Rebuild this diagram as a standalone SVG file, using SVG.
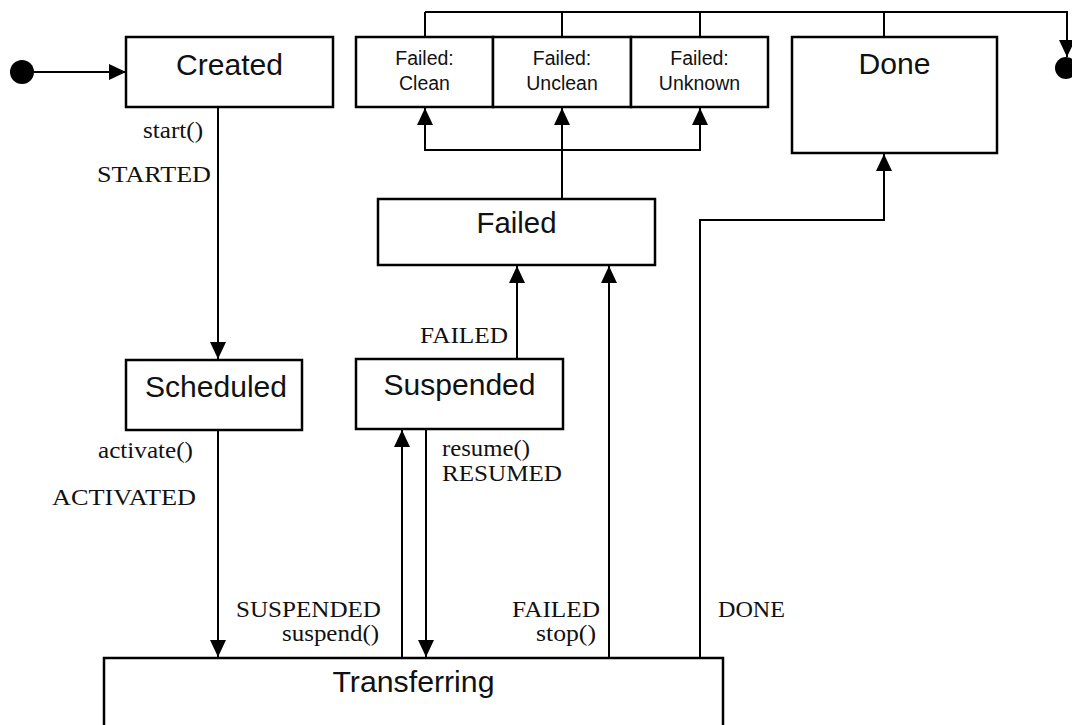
<svg xmlns="http://www.w3.org/2000/svg" width="1072" height="725" viewBox="0 0 1072 725">
<style>
.box{fill:#fff;stroke:#000;stroke-width:2.5}
.ln{fill:none;stroke:#000;stroke-width:2}
.nm{font-family:"Liberation Sans",Arial,sans-serif;font-size:29px;fill:#111;text-anchor:middle}
.sm{font-family:"Liberation Sans",Arial,sans-serif;font-size:19.5px;fill:#111;text-anchor:middle}
.lb{font-family:"Liberation Serif","Times New Roman",serif;font-size:23px;fill:#111}
.end{text-anchor:end}
</style>
<defs>
<marker id="ah" markerUnits="userSpaceOnUse" markerWidth="18" markerHeight="18" refX="17" refY="8" orient="auto">
<path d="M0,0 L17,8 L0,16 z" fill="#000"/>
</marker>
</defs>
<rect width="1072" height="725" fill="#fff"/>
<g id="connectors">
<line class="ln" x1="34" y1="72" x2="126" y2="72" marker-end="url(#ah)"/>
<line class="ln" x1="218" y1="107" x2="218" y2="359" marker-end="url(#ah)"/>
<line class="ln" x1="218" y1="430" x2="218" y2="657" marker-end="url(#ah)"/>
<line class="ln" x1="402" y1="658" x2="402" y2="430" marker-end="url(#ah)"/>
<line class="ln" x1="426" y1="429" x2="426" y2="657" marker-end="url(#ah)"/>
<line class="ln" x1="517" y1="359" x2="517" y2="266" marker-end="url(#ah)"/>
<line class="ln" x1="609" y1="658" x2="609" y2="266" marker-end="url(#ah)"/>
<polyline class="ln" points="700,658 700,220 884,220 884,154" marker-end="url(#ah)"/>
<line class="ln" x1="562" y1="198" x2="562" y2="108" marker-end="url(#ah)"/>
<polyline class="ln" points="425,108 425,150 700,150 700,108"/>
<line class="ln" x1="425" y1="150" x2="425" y2="108" marker-end="url(#ah)"/>
<line class="ln" x1="700" y1="150" x2="700" y2="108" marker-end="url(#ah)"/>
<line class="ln" x1="425" y1="37" x2="425" y2="12"/>
<line class="ln" x1="562" y1="37" x2="562" y2="12"/>
<line class="ln" x1="700" y1="37" x2="700" y2="12"/>
<line class="ln" x1="884" y1="37" x2="884" y2="12"/>
<polyline class="ln" points="425,12 1067,12 1067,57" marker-end="url(#ah)"/>
</g>
<g id="labels">
<text class="lb end" x="203" y="138" textLength="60" lengthAdjust="spacingAndGlyphs">start()</text>
<text class="lb end" x="211" y="182" textLength="114" lengthAdjust="spacingAndGlyphs">STARTED</text>
<text class="lb end" x="193" y="458" textLength="95" lengthAdjust="spacingAndGlyphs">activate()</text>
<text class="lb end" x="196" y="505" textLength="144" lengthAdjust="spacingAndGlyphs">ACTIVATED</text>
<text class="lb end" x="508" y="343" textLength="88" lengthAdjust="spacingAndGlyphs">FAILED</text>
<text class="lb" x="442" y="456" textLength="88" lengthAdjust="spacingAndGlyphs">resume()</text>
<text class="lb" x="442" y="481" textLength="120" lengthAdjust="spacingAndGlyphs">RESUMED</text>
<text class="lb end" x="381" y="617" textLength="145" lengthAdjust="spacingAndGlyphs">SUSPENDED</text>
<text class="lb end" x="379" y="641" textLength="97" lengthAdjust="spacingAndGlyphs">suspend()</text>
<text class="lb end" x="600" y="617" textLength="88" lengthAdjust="spacingAndGlyphs">FAILED</text>
<text class="lb end" x="596" y="641" textLength="60" lengthAdjust="spacingAndGlyphs">stop()</text>
<text class="lb" x="718" y="617" textLength="67" lengthAdjust="spacingAndGlyphs">DONE</text>
</g>
<g id="initial"><circle cx="22" cy="72" r="12" fill="#000"/></g>
<g id="final"><circle cx="1066" cy="68" r="11" fill="#000"/></g>
<g id="created"><rect class="box" x="126" y="37" width="207" height="70"/><text class="nm" x="229.5" y="75" textLength="107" lengthAdjust="spacingAndGlyphs">Created</text></g>
<g id="failed-clean"><rect class="box" x="356" y="37" width="137" height="70"/><text class="sm" x="424.5" y="65">Failed:</text><text class="sm" x="424.5" y="90">Clean</text></g>
<g id="failed-unclean"><rect class="box" x="493" y="37" width="138" height="70"/><text class="sm" x="562" y="65">Failed:</text><text class="sm" x="562" y="90">Unclean</text></g>
<g id="failed-unknown"><rect class="box" x="631" y="37" width="137" height="70"/><text class="sm" x="699.5" y="65">Failed:</text><text class="sm" x="699.5" y="90">Unknown</text></g>
<g id="done"><rect class="box" x="792" y="37" width="205" height="116"/><text class="nm" x="894.5" y="74" textLength="72" lengthAdjust="spacingAndGlyphs">Done</text></g>
<g id="failed"><rect class="box" x="378" y="199" width="277" height="66"/><text class="nm" x="516.5" y="233" textLength="80" lengthAdjust="spacingAndGlyphs">Failed</text></g>
<g id="scheduled"><rect class="box" x="126" y="360" width="176" height="70"/><text class="nm" x="216" y="397" textLength="142" lengthAdjust="spacingAndGlyphs">Scheduled</text></g>
<g id="suspended"><rect class="box" x="356" y="359" width="207" height="70"/><text class="nm" x="459.5" y="395" textLength="152" lengthAdjust="spacingAndGlyphs">Suspended</text></g>
<g id="transferring"><rect class="box" x="104" y="658" width="619" height="80"/><text class="nm" x="413.5" y="692" textLength="162" lengthAdjust="spacingAndGlyphs">Transferring</text></g>
</svg>
